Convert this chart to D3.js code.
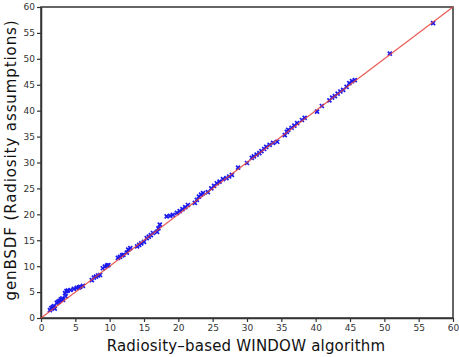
<!DOCTYPE html>
<html>
<head>
<meta charset="utf-8">
<script src="https://cdn.jsdelivr.net/npm/d3@7"></script>
<style>
  body { margin: 0; background: #fff; }
  text { font-family: "DejaVu Sans", Verdana, sans-serif; }
</style>
</head>
<body>
<svg width="459" height="357"></svg>
<script>
// values
var window_vals = [1.3, 1.5, 1.7, 1.9, 2.0, 2.3, 2.5, 2.7, 2.9, 3.1, 3.2, 3.5, 3.7, 3.9, 3.6, 4.3, 4.8, 5.2, 5.5, 5.7,
  6.1, 7.4, 7.7, 8.0, 8.3, 8.6, 9.0, 9.3, 9.6, 9.8, 11.2, 11.5, 11.8, 12.0, 12.5, 12.7, 13.0, 14.0, 14.3, 14.6,
  15.0, 15.4, 15.7, 16.0, 16.3, 16.9, 17.1, 17.3, 18.3, 18.8, 19.2, 19.8, 20.2, 20.6, 21.0, 21.4, 22.4, 22.7, 23.0, 23.3,
  23.6, 24.3, 24.8, 25.2, 25.6, 26.0, 26.5, 27.0, 27.4, 27.8, 28.7, 30.0, 30.7, 31.0, 31.4, 31.8, 32.1, 32.5, 32.8, 33.3,
  33.8, 34.4, 35.5, 35.8, 36.0, 36.5, 36.9, 37.3, 38.0, 38.4, 40.2, 40.9, 42.0, 42.4, 42.8, 43.2, 43.6, 44.0, 44.5, 44.9,
  45.3, 45.7, 50.8, 57.1]
var genbsdf_vals = [1.5, 1.9, 2.1, 2.3, 1.8, 2.9, 3.1, 3.3, 3.6, 3.8, 3.5, 4.8, 5.2, 5.3, 4.2, 5.4, 5.6, 5.8, 5.9, 6.0,
  6.2, 7.3, 7.8, 8.0, 8.2, 8.3, 9.6, 9.9, 10.1, 10.2, 11.6, 11.8, 12.1, 12.2, 12.6, 13.2, 13.5, 13.8, 14.1, 14.4,
  14.7, 15.4, 15.7, 16.0, 16.4, 16.6, 17.3, 18.0, 19.6, 19.7, 19.9, 20.3, 20.6, 21.0, 21.4, 21.8, 22.2, 22.8, 23.4, 23.8,
  24.1, 24.3, 25.0, 25.5, 26.0, 26.3, 26.8, 27.0, 27.3, 27.6, 29.0, 29.9, 30.9, 31.2, 31.5, 31.8, 32.2, 32.6, 33.0, 33.4,
  33.8, 34.0, 35.3, 35.9, 36.3, 36.7, 37.1, 37.6, 38.2, 38.6, 39.8, 40.9, 42.0, 42.5, 42.8, 43.3, 43.7, 44.0, 44.6, 45.3,
  45.7, 45.9, 51.0, 56.9]
var tick_vals = [0, 5, 10, 15, 20, 25, 30, 35, 40, 45, 50, 55, 60]
var diag = [0, 60]

var plot_l = 41, plot_r = 453, plot_t = 7, plot_b = 318
var svg = d3.select('svg')

var x = d3.scaleLinear().domain([0, 60]).range([plot_l, plot_r])
var y = d3.scaleLinear().domain([0, 60]).range([plot_b, plot_t])

// box
svg.append('rect')
    .attr('x', plot_l).attr('y', plot_t)
    .attr('width', plot_r - plot_l).attr('height', plot_b - plot_t)
    .attr('fill', 'none').attr('stroke', '#333').attr('stroke-width', 1.5)

var xAxis = svg.append('g')
    .attr('transform', 'translate(0,' + plot_b + ')')
    .call(d3.axisBottom(x).tickValues(tick_vals).tickSize(4).tickSizeOuter(0))
var yAxis = svg.append('g')
    .attr('transform', 'translate(' + plot_l + ',0)')
    .call(d3.axisLeft(y).tickValues(tick_vals).tickSize(4).tickSizeOuter(0))

svg.selectAll('.domain').attr('stroke', '#333').attr('stroke-width', 1.5)
svg.selectAll('.tick line').attr('stroke', '#333').attr('stroke-width', 1.2)
svg.selectAll('.tick text')
    .attr('fill', '#333')
    .style('font-size', '9px')
    .style('font-family', '"DejaVu Sans", Verdana, sans-serif')
xAxis.selectAll('.tick text').attr('dy', '0.9em').attr('y', 5)
yAxis.selectAll('.tick text').attr('x', -6)

// points
var marks = svg.append('g')
window_vals.forEach(function(v, i){
    var cx = x(v), cy = y(genbsdf_vals[i])
    marks.append('path')
        .attr('d', 'M' + (cx - 2) + ',' + (cy - 2) + 'L' + (cx + 2) + ',' + (cy + 2) +
                   'M' + (cx - 2) + ',' + (cy + 2) + 'L' + (cx + 2) + ',' + (cy - 2))
        .attr('stroke', '#1a1aee')
        .attr('stroke-width', 1.7)
})

// 1:1 line
svg.append('line')
    .attr('x1', x(diag[0])).attr('y1', y(diag[0]))
    .attr('x2', x(diag[1])).attr('y2', y(diag[1]))
    .attr('stroke', '#e8403a')
    .attr('stroke-width', 1.2)
    .attr('opacity', 0.85)

svg.append('text')
    .text('Radiosity–based WINDOW algorithm')
    .attr('x', 246)
    .attr('y', 351)
    .attr('text-anchor', 'middle')
    .attr('fill', '#111')
    .style('font-size', '15px')
    .style('letter-spacing', '0.2px')

svg.append('text')
    .text('genBSDF (Radiosity assumptions)')
    .attr('transform', 'translate(16,' + 160 + ') rotate(-90)')
    .attr('text-anchor', 'middle')
    .attr('fill', '#111')
    .style('font-size', '15px')
    .style('letter-spacing', '0.9px')
</script>
</body>
</html>
